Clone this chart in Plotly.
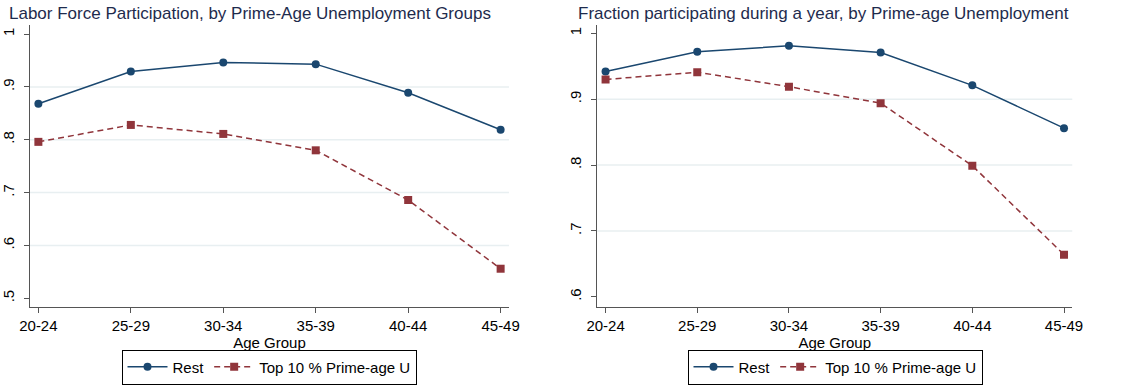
import plotly.graph_objects as go

age_groups = ["20-24", "25-29", "30-34", "35-39", "40-44", "45-49"]

# Labor force participation by group
lfp_rest = [0.868, 0.929, 0.946, 0.943, 0.889, 0.819]
lfp_top10 = [0.796, 0.828, 0.811, 0.780, 0.686, 0.556]

# Fraction participating during a year by group
part_rest = [0.942, 0.972, 0.981, 0.971, 0.921, 0.856]
part_top10 = [0.930, 0.941, 0.919, 0.894, 0.799, 0.664]

left_ticks = [0.5, 0.6, 0.7, 0.8, 0.9, 1.0]
left_ticktext = [".5", ".6", ".7", ".8", ".9", "1"]
right_ticks = [0.6, 0.7, 0.8, 0.9, 1.0]
right_ticktext = [".6", ".7", ".8", ".9", "1"]

NAVY = "#1a476f"
MAROON = "#90353b"
TITLE_COLOR = "#1e2b4d"
GRID = "#e8eff1"
AXIS = "#555555"
FONT = "Liberation Sans, Arial, sans-serif"

fig = go.Figure()

def add_pair(rest, top, xa, ya, legend):
    fig.add_trace(go.Scatter(
        x=age_groups, y=rest, name="Rest", mode="lines+markers",
        line=dict(color=NAVY, width=1.5),
        marker=dict(symbol="circle", size=8, color=NAVY),
        xaxis=xa, yaxis=ya, legend=legend,
    ))
    fig.add_trace(go.Scatter(
        x=age_groups, y=top, name="Top 10 % Prime-age U", mode="lines+markers",
        line=dict(color=MAROON, width=1.5, dash="6px,4px"),
        marker=dict(symbol="square", size=8, color=MAROON),
        xaxis=xa, yaxis=ya, legend=legend,
    ))

add_pair(lfp_rest, lfp_top10, "x", "y", "legend")
add_pair(part_rest, part_top10, "x2", "y2", "legend2")

xaxis_common = dict(
    type="category", range=[-0.09, 5.09], automargin=False,
    showline=True, linecolor=AXIS, linewidth=1.2,
    ticks="outside", ticklen=5, tickcolor=AXIS,
    showgrid=False, zeroline=False,
    tickfont=dict(size=15, color="#000000", family=FONT),
    title=dict(text="Age Group", font=dict(size=15, color="#000000", family=FONT), standoff=0),
)
yaxis_common = dict(
    automargin=False,
    showline=True, linecolor=AXIS, linewidth=1.2,
    ticks="outside", ticklen=5, tickcolor=AXIS,
    showgrid=False, zeroline=False, tickangle=-90, ticklabelstandoff=4,
    tickfont=dict(size=15, color="#000000", family=FONT),
)

legend_common = dict(
    orientation="h", xanchor="center", yanchor="middle",
    bordercolor="#000000", borderwidth=1, bgcolor="white",
    font=dict(size=15, color="#000000", family=FONT), itemwidth=40,
)

fig.update_layout(
    template="none",
    width=1130, height=385,
    margin=dict(l=0, r=0, t=0, b=0),
    paper_bgcolor="white", plot_bgcolor="white",
    font=dict(family=FONT),
    xaxis=dict(domain=[0.0266, 0.4504], anchor="y", **xaxis_common),
    yaxis=dict(domain=[0.2026, 0.935], anchor="x", range=[0.4836, 1.017],
               tickvals=left_ticks, ticktext=left_ticktext, **yaxis_common),
    xaxis2=dict(domain=[0.5286, 0.9489], anchor="y2", **xaxis_common),
    yaxis2=dict(domain=[0.2034, 0.935], anchor="x2", range=[0.585, 1.0126],
                tickvals=right_ticks, ticktext=right_ticktext, **yaxis_common),
    legend=dict(x=269 / 1130, y=(385 - 367) / 385, **legend_common),
    legend2=dict(x=835 / 1130, y=(385 - 367) / 385, **legend_common),
)

# light horizontal grid lines at interior ticks
for val in [0.6, 0.7, 0.8, 0.9]:
    fig.add_shape(type="line", xref="x domain", yref="y", x0=0, x1=1, y0=val, y1=val,
                  line=dict(color=GRID, width=1.5), layer="below")
for val in [0.7, 0.8, 0.9]:
    fig.add_shape(type="line", xref="x2 domain", yref="y2", x0=0, x1=1, y0=val, y1=val,
                  line=dict(color=GRID, width=1.5), layer="below")

fig.add_annotation(text="Labor Force Participation, by Prime-Age Unemployment Groups",
                   xref="paper", yref="paper", x=250 / 1130, y=1 - 13 / 385,
                   xanchor="center", yanchor="middle", showarrow=False,
                   font=dict(size=17, color=TITLE_COLOR, family=FONT))
fig.add_annotation(text="Fraction participating during a year, by Prime-age Unemployment",
                   xref="paper", yref="paper", x=823 / 1130, y=1 - 13 / 385,
                   xanchor="center", yanchor="middle", showarrow=False,
                   font=dict(size=17, color=TITLE_COLOR, family=FONT))

fig.write_html("out.html")
